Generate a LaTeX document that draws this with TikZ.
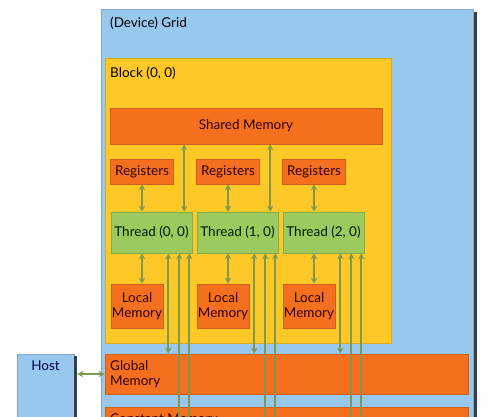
\documentclass[tikz,border=0pt]{standalone}
\usepackage{fontspec}
\setmainfont{Lato}
\usetikzlibrary{arrows.meta,calc}

\definecolor{gridblue}{RGB}{152,200,238}
\definecolor{blockyellow}{RGB}{254,200,38}
\definecolor{memorange}{RGB}{244,112,30}
\definecolor{threadgreen}{RGB}{156,202,94}
\definecolor{linkgreen}{RGB}{126,154,82}
\definecolor{edgegray}{RGB}{60,62,66}

\tikzset{
  box/.style={rectangle, draw=#1!85!black, fill=#1, line width=0.5pt, inner sep=0pt},
  mem/.style={box=memorange, text=black!70!red!60!black},
  thr/.style={box=threadgreen, text=black!75!green!40!black},
  lbl/.style={font=\fontsize{13.5}{15.5}\selectfont, inner sep=0pt},
  link/.style={linkgreen, line width=1.6pt,
    {Stealth[length=6pt,width=6pt]}-{Stealth[length=6pt,width=6pt]}},
  uplink/.style={linkgreen, line width=1.6pt, -{Stealth[length=6pt,width=6pt]}},
}

\begin{document}
\begin{tikzpicture}[x=1pt, y={(0,-1pt)}]
\useasboundingbox[fill=white] (0,0) rectangle (500,416);

% grid and block
\node[box=gridblue, minimum width=372, minimum height=411] (grid) at (287,214.5) {};
\draw[edgegray, line width=3pt] ($(grid.north east)+(2,3)$) -- ($(grid.south east)+(2,0)$);
\node[lbl, anchor=west] (gridlbl) at (110,23) {(Device) Grid};
\node[box=blockyellow, minimum width=286, minimum height=285] (block) at (248,200.5) {};
\node[lbl, anchor=west] (blocklbl) at (110,73) {Block (0, 0)};

\node[mem, lbl, minimum width=272, minimum height=36] (shared) at (246,126) {Shared Memory};

\foreach \i/\dx in {0/0, 1/86, 2/172} {
  \node[mem, lbl, minimum width=63, minimum height=25] (reg\i) at (142+\dx,171.5) {Registers};
  \node[thr, lbl, minimum width=81, minimum height=41] (th\i) at (151.5+\dx,232.5) {Thread (\i, 0)};
  \node[mem, lbl, minimum width=52, minimum height=44, align=center] (loc\i) at (137+\dx,306) {Local\\Memory};
}

% memories below the block
\node[mem, minimum width=363, minimum height=40] (global) at (286.5,374) {};
\node[lbl, anchor=west, align=left, text=black!70!red!60!black] (globallbl) at (110,374) {Global\\Memory};
\node[mem, minimum width=363, minimum height=18] (cmem) at (286.5,416) {};
\node[lbl, anchor=north west, text=black!70!red!60!black] (cmemlbl) at (110,413.5) {Constant Memory};

% host
\node[box=gridblue, minimum width=57, minimum height=71] (host) at (45.5,389.5) {};
\draw[edgegray, line width=3pt] ($(host.north east)+(1.5,2)$) -- ($(host.south east)+(1.5,0)$);
\node[lbl, text=black!70!blue] (hostlbl) at (45.5,366) {Host};
\draw[link] ($(host.east |- global.west)+(3,0)$) -- (global.west);

% connectors
\foreach \i in {0,1,2} {
  \draw[link] (reg\i.south) -- (reg\i.south |- th\i.north);
  \draw[link] (th\i.south -| reg\i.south) -- (loc\i.north -| reg\i.south);
  \draw[link] ($(th\i.south east)+(-24,0)$) -- ($(th\i.south east |- global.north)+(-24,0)$);
  \draw[uplink] ($(th\i.south east |- cmem.south)+(-13,0)$) -- ($(th\i.south east)+(-13,0)$);
  \draw[uplink] ($(th\i.south east |- cmem.south)+(-3,0)$) -- ($(th\i.south east)+(-3,0)$);
}
\foreach \i in {0,1}
  \draw[link] ($(th\i.north east)+(-8,0)$) -- ($(th\i.north east |- shared.south)+(-8,0)$);
\end{tikzpicture}
\end{document}
